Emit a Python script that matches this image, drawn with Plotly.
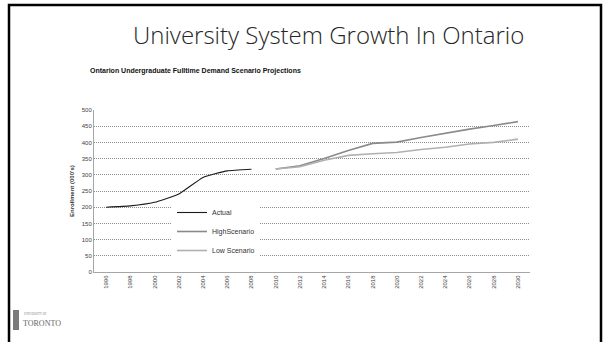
import plotly.graph_objects as go

# data (enrolment in thousands)
actual_years = [1996, 1998, 2000, 2002, 2004, 2006, 2008]
actual_vals = [200, 204, 215, 241, 292, 312, 317]

scen_years = [2010, 2012, 2014, 2016, 2018, 2020, 2022, 2024, 2026, 2028, 2030]
high_vals = [318, 328, 350, 375, 397, 401, 415, 429, 441, 452, 464]
low_vals = [318, 325, 345, 360, 365, 369, 378, 385, 395, 400, 410]

tick_years = list(range(1996, 2031, 2))
y_ticks = list(range(0, 501, 50))

W, H = 609, 342
L, R, T, B = 94, 530, 110, 272  # plot area in pixels


def px(x):
    return (x - L) / (R - L)


def py(y):
    return (B - y) / (B - T)


fig = go.Figure()
fig.add_trace(go.Scatter(x=actual_years, y=actual_vals, mode='lines', name='Actual',
                         line=dict(color='#1a1a1a', width=1.1, shape='spline', smoothing=0.4)))
fig.add_trace(go.Scatter(x=scen_years, y=high_vals, mode='lines', name='HighScenario',
                         line=dict(color='#8a8a8a', width=1.6)))
fig.add_trace(go.Scatter(x=scen_years, y=low_vals, mode='lines', name='Low Scenario',
                         line=dict(color='#b0b0b0', width=1.6)))

small = dict(family="Liberation Sans Narrow, Liberation Sans, Arial", size=6, color='#404040')

fig.update_layout(
    width=W, height=H,
    margin=dict(l=L, r=W - R, t=T, b=H - B),
    plot_bgcolor='white', paper_bgcolor='white',
    showlegend=True,
    legend=dict(x=px(172), y=py(198), xanchor='left', yanchor='top',
                bgcolor='white', font=dict(family="Liberation Sans Narrow, Arial", size=7, color='#333'),
                itemwidth=30, tracegroupgap=0),
    font=small,
)

fig.update_xaxes(range=[1995, 2031], tickvals=tick_years, ticktext=[str(y) for y in tick_years],
                 tickangle=-90, showgrid=False, zeroline=False, showline=True,
                 linecolor='#a6a6a6', linewidth=1.2, ticks='', tickfont=small)
fig.update_yaxes(range=[0, 500], tickvals=y_ticks, showgrid=True, griddash='1px,1px',
                 gridcolor='#8c8c8c', gridwidth=1, zeroline=False, showline=True,
                 linecolor='#a6a6a6', linewidth=1, ticks='', tickfont=small)

# slide title
fig.add_annotation(text="University System Growth In Ontario", x=px(328), y=py(35),
                   xref='paper', yref='paper', xanchor='center', yanchor='middle', showarrow=False,
                   font=dict(family="Open Sans", size=24, color='#262626', weight=300))
# chart title
fig.add_annotation(text="<b>Ontarion Undergraduate Fulltime Demand Scenario Projections</b>",
                   x=px(88), y=py(71), xref='paper', yref='paper', xanchor='left', yanchor='middle',
                   showarrow=False,
                   font=dict(family="Liberation Sans Narrow, Liberation Sans, Arial", size=7, color='#111'))
# y axis title
fig.add_annotation(text="<b>Enrollment (000's)</b>", x=px(72), y=py(191), xref='paper', yref='paper',
                   xanchor='center', yanchor='middle', textangle=-90, showarrow=False,
                   font=dict(family="Liberation Sans Narrow, Arial", size=6, color='#333'))

# slide frame
fig.add_shape(type='rect', xref='paper', yref='paper', x0=px(9), x1=px(601), y0=py(350), y1=py(5),
              line=dict(color='black', width=2.5), layer='below')

# logo stand-in
fig.add_shape(type='rect', xref='paper', yref='paper', x0=px(13), x1=px(19), y0=py(330), y1=py(310),
              fillcolor='#7a7a7a', line=dict(width=0))
fig.add_annotation(text="UNIVERSITY OF", x=px(22), y=py(314), xref='paper', yref='paper',
                   xanchor='left', yanchor='middle',
                   showarrow=False, font=dict(family="Liberation Serif", size=3, color='#888'))
fig.add_annotation(text="TORONTO", x=px(21), y=py(323), xref='paper', yref='paper',
                   xanchor='left', yanchor='middle',
                   showarrow=False, font=dict(family="Liberation Serif", size=8, color='#666'))

# drop the default 8px body margin so the figure sits at the window origin
fig.write_html("out.html", config={'displayModeBar': False},
               post_script="document.body.style.margin='0';")
